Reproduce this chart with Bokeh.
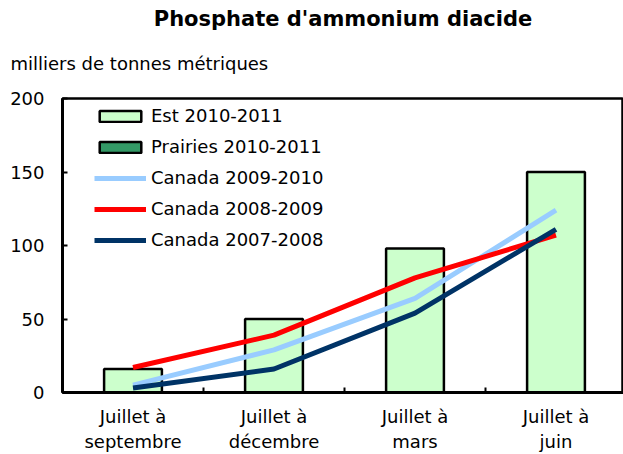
from bokeh.plotting import figure
from bokeh.models import ColumnDataSource, FixedTicker, Legend, LegendItem, Title, Range1d
from bokeh.embed import file_html
from bokeh.resources import INLINE

categories = ["Juillet à\nseptembre", "Juillet à\ndécembre", "Juillet à\nmars", "Juillet à\njuin"]
est_2010_2011 = [16, 50, 98, 150]
prairies_2010_2011 = [float("nan")] * 4
canada_2009_2010 = [5, 29, 64, 124]
canada_2008_2009 = [17, 39, 78, 107]
canada_2007_2008 = [3, 16, 54, 111]
y_ticks = [0, 50, 100, 150, 200]

x = list(range(1, len(categories) + 1))
src = ColumnDataSource(dict(x=x, est=est_2010_2011, pra=prairies_2010_2011,
                            c10=canada_2009_2010, c09=canada_2008_2009, c08=canada_2007_2008))

FONT = "DejaVu Sans"
p = figure(width=623, height=454, output_backend="svg", toolbar_location=None,
           x_range=Range1d(0.5, 0.5 + 561 / 141), y_range=Range1d(0, 200),
           min_border_left=62, min_border_right=0, min_border_top=98, min_border_bottom=61,
           title=None)
p.xgrid.visible = False
p.ygrid.visible = False
p.outline_line_color = "black"
p.outline_line_width = 2.5

r_est = p.vbar(x="x", top="est", width=0.41, source=src, fill_color="#CCFFCC",
               line_color="black", line_width=2.5)
r_pra = p.vbar(x="x", top="pra", width=0.41, source=src, fill_color="#339966",
               line_color="black", line_width=2.5)
r10 = p.line("x", "c10", source=src, line_color="#99CCFF", line_width=5)
r09 = p.line("x", "c09", source=src, line_color="#FF0000", line_width=5)
r08 = p.line("x", "c08", source=src, line_color="#003366", line_width=5)

# axes
xa = p.xaxis[0]
xa.ticker = FixedTicker(ticks=x, minor_ticks=[1.5, 2.5, 3.5])
xa.major_label_overrides = {i + 1: c for i, c in enumerate(categories)}
xa.major_tick_in = 0
xa.major_tick_out = 0
xa.minor_tick_in = 5
xa.minor_tick_out = 0
xa.minor_tick_line_width = 2
xa.axis_line_width = 3
xa.major_label_text_font = FONT
xa.major_label_text_font_size = "18px"
xa.major_label_text_color = "black"
xa.major_label_standoff = 13

ya = p.yaxis[0]
ya.ticker = FixedTicker(ticks=y_ticks)
ya.major_tick_in = 5
ya.major_tick_out = 0
ya.major_tick_line_width = 2
ya.minor_tick_line_color = None
ya.axis_line_width = 3
ya.major_label_text_font = FONT
ya.major_label_text_font_size = "18px"
ya.major_label_text_color = "black"
ya.major_label_standoff = 18

legend = Legend(items=[
    LegendItem(label="Est 2010-2011", renderers=[r_est]),
    LegendItem(label="Prairies 2010-2011", renderers=[r_pra]),
    LegendItem(label="Canada 2009-2010", renderers=[r10]),
    LegendItem(label="Canada 2008-2009", renderers=[r09]),
    LegendItem(label="Canada 2007-2008", renderers=[r08]),
], location=(32, 142))
legend.border_line_color = None
legend.background_fill_alpha = 0
legend.padding = 0
legend.margin = 0
legend.spacing = 10
legend.glyph_width = 52
legend.glyph_height = 14
legend.label_height = 20
legend.label_standoff = 5
legend.label_text_font = FONT
legend.label_text_font_size = "18px"
legend.label_text_color = "black"
p.add_layout(legend, "center")

spacer = Title(text=" ", standoff=5, text_font_size="1px")
p.add_layout(spacer, "above")
sub = Title(text="milliers de tonnes métriques", align="left", offset=-52, standoff=33,
            text_font=FONT, text_font_size="18px", text_font_style="normal",
            text_color="black")
p.add_layout(sub, "above")
main = Title(text="Phosphate d'ammonium diacide", align="center", offset=-38, standoff=7,
             text_font=FONT, text_font_size="21px", text_font_style="bold",
             text_color="black")
p.add_layout(main, "above")

open("out.html", "w").write(file_html(p, INLINE))
